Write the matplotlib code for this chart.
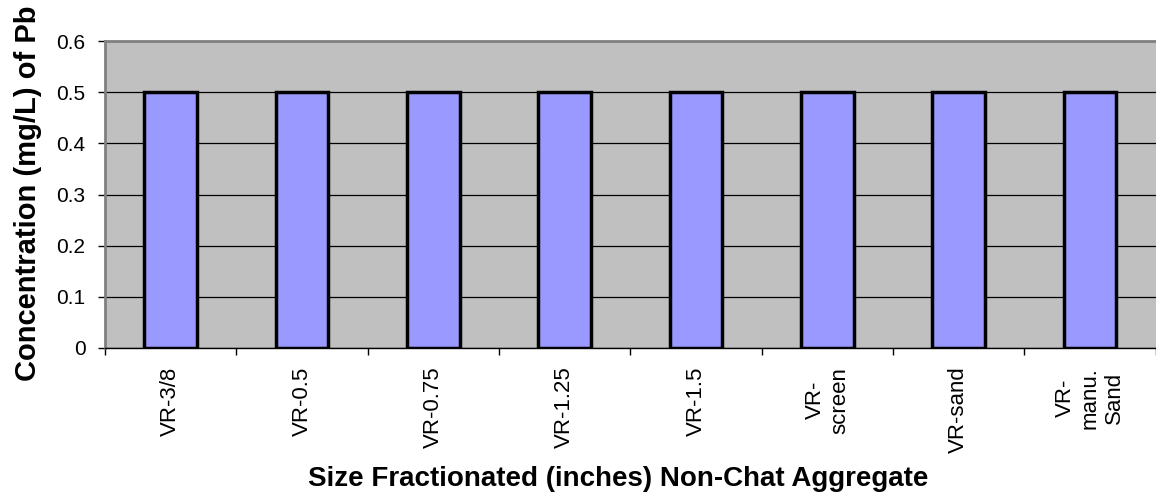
import matplotlib.pyplot as plt
import numpy as np

# data
categories = ["VR-3/8", "VR-0.5", "VR-0.75", "VR-1.25", "VR-1.5",
              "VR-\nscreen", "VR-sand", "VR-\nmanu.\nSand"]
pb_conc = [0.5, 0.5, 0.5, 0.5, 0.5, 0.5, 0.5, 0.5]
yticks = [0, 0.1, 0.2, 0.3, 0.4, 0.5, 0.6]

plt.rcParams['font.family'] = ['Liberation Sans', 'DejaVu Sans']

fig = plt.figure(figsize=(11.56, 5.01), dpi=100)
ax = fig.add_axes([0.0908, 0.3054, 0.909, 0.6126])
ax.set_facecolor("#C0C0C0")

x = np.arange(len(categories))
ax.bar(x, pb_conc, width=0.40, color="#9999FF", edgecolor="black",
       linewidth=2.5, zorder=3)

ax.set_xlim(-0.5, len(categories) - 0.5)
ax.set_ylim(0, 0.6)
ax.set_yticks(yticks)
ax.set_yticklabels(["0", "0.1", "0.2", "0.3", "0.4", "0.5", "0.6"], fontsize=15)
ax.yaxis.grid(True, color="black", linewidth=0.9, zorder=1)
ax.set_axisbelow(True)

# category labels in the middle, tick marks between categories
ax.set_xticks(x)
ax.set_xticklabels(categories, rotation=90, fontsize=16, ha="center",
                   va="top", multialignment="center")
ax.tick_params(axis="x", length=0, pad=13.5)
ax.set_xticks(np.arange(-0.5, len(categories) + 0.5, 1), minor=True)
ax.tick_params(axis="x", which="minor", length=5, width=1, color="black",
               direction="out")
ax.tick_params(axis="y", length=5, width=1, color="black", direction="out", pad=9)

for side in ["top", "left"]:
    ax.spines[side].set_color("#808080")
    ax.spines[side].set_linewidth(2)
ax.spines["right"].set_visible(False)
ax.spines["bottom"].set_color("black")
ax.spines["bottom"].set_linewidth(1)

ax.set_ylabel("Concentration (mg/L) of Pb", fontsize=21, fontweight="bold")
ax.yaxis.set_label_coords(-0.06, 0.505)
ax.set_xlabel("Size Fractionated (inches) Non-Chat Aggregate", fontsize=20,
              fontweight="bold")
ax.xaxis.set_label_coords(0.488, -0.385)

plt.savefig("out.png", dpi=100)
